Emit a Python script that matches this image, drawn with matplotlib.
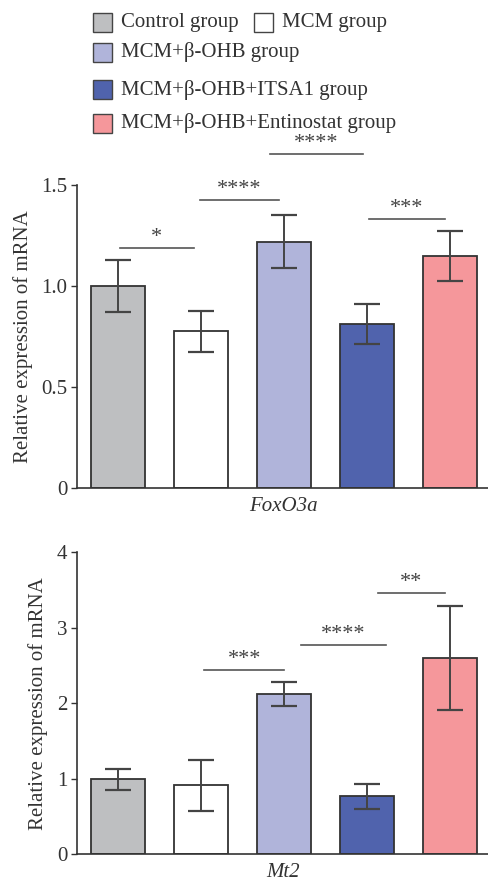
import numpy as np
import matplotlib.pyplot as plt
from matplotlib.patches import Rectangle

plt.rcParams['font.family'] = ['Liberation Serif', 'DejaVu Serif']

groups = ['Control group', 'MCM group', 'MCM+β-OHB group',
          'MCM+β-OHB+ITSA1 group', 'MCM+β-OHB+Entinostat group']
colors = ['#bebfc1', '#ffffff', '#b0b4da', '#5063ad', '#f5979b']

foxo3a_mean = [1.0, 0.775, 1.22, 0.81, 1.148]
foxo3a_sd = [0.127, 0.103, 0.132, 0.099, 0.123]
foxo3a_ticks = [0, 0.5, 1.0, 1.5]
foxo3a_ticklabels = ['0', '0.5', '1.0', '1.5']
# (from, to, height, stars)
foxo3a_sig = [(0.02, 0.91, 1.19, '*'),
              (0.99, 1.94, 1.425, '****'),
              (1.83, 2.95, 1.654, '****'),
              (3.02, 3.94, 1.332, '***')]

mt2_mean = [0.995, 0.915, 2.12, 0.77, 2.6]
mt2_sd = [0.14, 0.34, 0.157, 0.165, 0.69]
mt2_ticks = [0, 1, 2, 3, 4]
mt2_ticklabels = ['0', '1', '2', '3', '4']
mt2_sig = [(1.04, 2.0, 2.445, '***'),
           (2.2, 3.23, 2.77, '****'),
           (3.13, 3.94, 3.465, '**')]


def panel(ax, mean, sd, ticks, ticklabels, sig, gene):
    x = np.arange(len(mean))
    ax.bar(x, mean, width=0.65, color=colors, edgecolor='#333333', linewidth=1.3, zorder=2)
    ax.errorbar(x, mean, yerr=sd, fmt='none', ecolor='#444444', elinewidth=1.4,
                capsize=9.5, capthick=1.6, zorder=3)
    ax.set_xlim(-0.494, 4.47)
    ax.set_ylim(ticks[0], ticks[-1])
    ax.set_yticks(ticks)
    ax.set_yticklabels(ticklabels)
    ax.set_xticks([])
    for s in ['top', 'right']:
        ax.spines[s].set_visible(False)
    for s in ['left', 'bottom']:
        ax.spines[s].set_color('#333333')
        ax.spines[s].set_linewidth(1.2)
    ax.tick_params(axis='y', length=4, width=1.0, color='#333333', labelsize=15,
                   labelcolor='#333333', pad=3)
    ax.set_ylabel('Relative expression of mRNA', fontsize=15, color='#333333', labelpad=6)
    ax.set_xlabel(gene, fontsize=15, style='italic', color='#333333', labelpad=6.5)
    for x0, x1, h, stars in sig:
        ax.plot([x0, x1], [h, h], color='#555555', lw=1.2, clip_on=False)
        ax.annotate(stars, xy=((x0 + x1) / 2, h), xytext=(0, 7.5), textcoords='offset points',
                    ha='center', va='center', fontsize=16, color='#444444',
                    annotation_clip=False)


fig = plt.figure(figsize=(4.89, 8.82), dpi=100)
ax1 = fig.add_axes([0.1575, 0.447, 0.8425, 0.343])
ax2 = fig.add_axes([0.1575, 0.0314, 0.8425, 0.3424])
panel(ax1, foxo3a_mean, foxo3a_sd, foxo3a_ticks, foxo3a_ticklabels, foxo3a_sig, 'FoxO3a')
panel(ax2, mt2_mean, mt2_sd, mt2_ticks, mt2_ticklabels, mt2_sig, 'Mt2')

# legend drawn by hand (rows are unevenly spaced in the original)
W, H = 489, 882
legend_pos = [(92.7, 22.8), (254, 22.8), (92.7, 52), (92.7, 89.7), (92.7, 123)]
for (px, py), name, c in zip(legend_pos, groups, colors):
    fig.patches.append(Rectangle((px / W, (H - py - 9.5) / H), 19 / W, 19 / H,
                                 facecolor=c, edgecolor='#444444', linewidth=1.0,
                                 transform=fig.transFigure))
    fig.text((px + 28) / W, (H - py) / H, name, fontsize=15, color='#333333',
             ha='left', va='center')

fig.savefig('out.png', dpi=100)
